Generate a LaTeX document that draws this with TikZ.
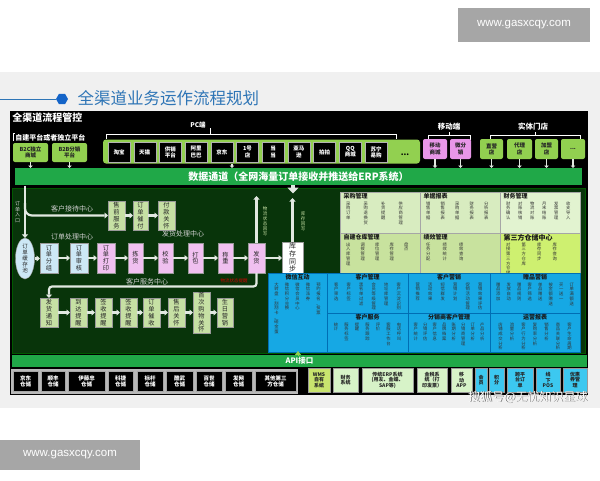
\documentclass[tikz,border=0pt]{standalone}
\usepackage{fontspec}
\setmainfont{Noto Sans CJK SC}
\newfontfamily\wmfont{Liberation Sans}
\usetikzlibrary{arrows.meta,shapes.geometric}
\definecolor{dkgreen}{RGB}{8,52,10}
\definecolor{brgreen}{RGB}{32,168,72}
\definecolor{lime}{RGB}{146,208,80}
\definecolor{pale}{RGB}{198,224,164}
\definecolor{lblue}{RGB}{205,232,246}
\definecolor{pinkb}{RGB}{240,192,240}
\definecolor{mpink}{RGB}{232,150,232}
\definecolor{cyanp}{RGB}{22,168,228}
\definecolor{cyanb}{RGB}{60,200,240}
\definecolor{titleblue}{RGB}{46,117,182}
\definecolor{hexblue}{RGB}{20,100,200}
\definecolor{bggray}{RGB}{240,240,240}
\definecolor{wmgray}{RGB}{166,166,166}
\definecolor{rpa}{RGB}{216,236,192}
\definecolor{rpb}{RGB}{226,243,208}
\definecolor{rpc}{RGB}{200,226,158}
\definecolor{rpd}{RGB}{206,240,112}
\definecolor{arrw}{RGB}{225,232,225}
\definecolor{wmsg}{RGB}{200,228,110}
\definecolor{mint}{RGB}{215,243,200}
\let\VEnd\relax
\def\VA#1{\ifx\VEnd#1\else\hbox to 1.05em{\hss#1\hss}\expandafter\VA\fi}
\newcommand\V[1]{\vtop{\baselineskip=1.1em\lineskiplimit=0pt\lineskip=0pt\VA#1\VEnd}}
\newcommand\W[1]{\V{#1}\hskip\cgap}
\tikzset{
 every node/.style={inner sep=0.5pt, outer sep=0pt},
 flow/.style={draw=black!40, line width=0.3pt, anchor=north west, align=center, font=\fontsize{6.2}{7}\selectfont, text=black!85},
 pcb/.style={draw=white!70!black, fill=black, text=white, anchor=north west, align=center, font=\bfseries\fontsize{5.5}{6.2}\selectfont, line width=0.4pt, minimum width=22pt, minimum height=20pt},
 srcb/.style={rounded corners=2pt, anchor=north west, align=center, font=\bfseries\fontsize{5.5}{6.2}\selectfont, text=black!85},
 lbl/.style={text=white!82!black, font=\fontsize{7}{7}\selectfont},
 hlbl/.style={text=white, font=\bfseries\fontsize{7.5}{7.5}\selectfont},
 warr/.style={draw=arrw, line width=2.2pt, -{Triangle[width=6pt,length=3.5pt]}},
 darr/.style={draw=arrw, line width=1.6pt, -{Triangle[width=4.5pt,length=2.5pt]}},
 pnl/.style={draw=black!35, line width=0.4pt, anchor=north west},
 bpnl/.style={draw={rgb,255:red,0;green,110;blue,180}, line width=0.4pt, anchor=north west},
 ptl/.style={font=\bfseries\fontsize{6}{6}\selectfont, text=black!90},
 pcols/.style={font=\fontsize{4.3}{5}\selectfont, text=black!80, inner sep=0pt},
 whb/.style={draw=gray!70, fill=black, text=white, anchor=north west, align=center, font=\bfseries\fontsize{5.5}{6.3}\selectfont, minimum height=20pt},
 brb/.style={draw=black!40, anchor=north west, align=center, font=\bfseries\fontsize{5}{5.6}\selectfont, text=black!85, minimum height=24pt},
 wmbox/.style={fill=wmgray, text=white, font=\wmfont\fontsize{11.5}{12}\selectfont}
}
\newcommand\fb[7]{\node[flow, fill=#2, minimum width=#5pt, minimum height=#6pt] (#1) at (#3,#4) {\V{#7}};}
\newcommand\panelL[9]{%
 \node[pnl, fill=#2, minimum width=#5pt, minimum height=#6pt] (#1) at (#3,#4) {};
 \node[ptl, anchor=north west] (#1t) at ([xshift=3pt,yshift=-1pt]#1.north west) {#7};
 \node[pcols, anchor=north west] (#1c) at ([xshift=6pt,yshift=-9.5pt]#1.north west) {\def\cgap{#8}#9};}
\newcommand\panelC[9]{%
 \node[bpnl, fill=#2, minimum width=#5pt, minimum height=#6pt] (#1) at (#3,#4) {};
 \node[ptl, anchor=north] (#1t) at ([yshift=-1pt]#1.north) {#7};
 \node[pcols, anchor=north] (#1c) at ([yshift=-9.5pt]#1.north) {\def\cgap{#8}#9};}
\begin{document}
\begin{tikzpicture}[x=1pt,y=-1pt]
\useasboundingbox (0,0) rectangle (600,480);
\fill[white] (0,0) rectangle (600,480);
\fill[bggray] (0,72) rectangle (600,408);
\node[wmbox, minimum width=132pt, minimum height=34pt] (wm1) at (524,25) {www.gasxcqy.com};
\node[wmbox, minimum width=140pt, minimum height=30pt] (wm2) at (70,455) {www.gasxcqy.com};
% title
\coordinate (tl0) at (0,99);
\node[regular polygon, regular polygon sides=6, fill=hexblue, minimum size=12pt, inner sep=0pt] (hex) at (62,99) {};
\draw[titleblue, line width=0.9pt] (tl0) -- (hex.west);
\node[anchor=west, text=titleblue, font=\fontsize{16.5}{17}\selectfont] (ttl) at (77,98) {全渠道业务运作流程规划};
% frame
\node[fill=black, anchor=north west, minimum width=578pt, minimum height=284pt] (frame) at (10,111) {};
\node[anchor=west, text=white, font=\bfseries\fontsize{10}{10}\selectfont] (ft) at (12,117.5) {全渠道流程管控};
% braces and group labels
\node[hlbl, font=\bfseries\fontsize{6.5}{6.5}\selectfont] (pcl) at (198,125) {PC端};
\draw[white, line width=0.5pt] (106,139) -- (106,134) -- (396,134) -- (396,139);
\draw[white, line width=0.5pt] (210,134) -- (210,128);
\node[hlbl] (mbl) at (449,126.5) {移动端};
\draw[white, line width=0.5pt] (428,139.5) -- (428,135) -- (470,135) -- (470,139.5);
\draw[white, line width=0.5pt] (449,135) -- (449,132);
\node[hlbl] (stl) at (533,126.5) {实体门店};
\draw[white, line width=0.5pt] (490,139.5) -- (490,135) -- (580,135) -- (580,139.5);
\draw[white, line width=0.5pt] (535,135) -- (535,132);
\node[anchor=west, text=white, font=\bfseries\fontsize{7}{7}\selectfont] (zjl) at (15,137.5) {自建平台或者独立平台};
\draw[white, line width=0.5pt] (13,141) -- (13,133.5) -- (15,133.5);
% sources
\node[srcb, fill=lime, minimum width=35pt, minimum height=19pt] (b2c) at (13,143) {B2C独立\\商城};
\node[srcb, fill=lime, minimum width=35pt, minimum height=19pt] (b2b) at (52,143) {B2B分销\\平台};
\node[fill=lime, rounded corners=3pt, anchor=north west, minimum width=317pt, minimum height=24pt] (pcg) at (103,139.5) {};
\node[pcb] (pc1) at (108,142) {淘宝};
\node[pcb] (pc2) at (133.7,142) {天猫};
\node[pcb] (pc3) at (159.4,142) {供销\\平台};
\node[pcb] (pc4) at (185.1,142) {阿里\\巴巴};
\node[pcb] (pc5) at (210.8,142) {京东};
\node[pcb] (pc6) at (236.5,142) {1号\\店};
\node[pcb] (pc7) at (262.2,142) {当\\当};
\node[pcb] (pc8) at (287.9,142) {亚马\\逊};
\node[pcb] (pc9) at (313.6,142) {拍拍};
\node[pcb] (pc10) at (339.3,142) {QQ\\商城};
\node[pcb] (pc11) at (365,142) {苏宁\\易购};
\node[font=\bfseries\fontsize{8}{8}\selectfont, text=black] (pcd) at (405,155) {...};
\node[srcb, fill=mpink, minimum width=24pt, minimum height=20pt] (mc) at (423,139) {移动\\商城};
\node[srcb, fill=mpink, minimum width=21pt, minimum height=20pt] (wf) at (450,139) {微分\\销};
\node[srcb, fill=lime, minimum width=23pt, minimum height=20pt] (zy) at (480,139) {直营\\店};
\node[srcb, fill=lime, minimum width=25pt, minimum height=20pt] (dl) at (507,139) {代理\\店};
\node[srcb, fill=lime, minimum width=23pt, minimum height=20pt] (jm) at (535,139) {加盟\\店};
\node[srcb, fill=lime, minimum width=24pt, minimum height=20pt] (sd) at (561,139) {...};
% data channel
\node[fill=brgreen, anchor=north west, minimum width=567pt, minimum height=17pt, text=white, font=\bfseries\fontsize{10}{10}\selectfont] (dc) at (15,168) {数据通道（全网海量订单接收并推送给ERP系统）};
\foreach \n in {b2c,b2b,mc,wf,zy,dl,jm,sd} \draw[darr] (\n.south) -- (\n.south |- dc.north);
\draw[darr] ([xshift=-29.5pt]pcg.south) -- ([xshift=-29.5pt]pcg.south |- dc.north);
% main area
\node[fill=dkgreen, draw=green!35!black, line width=0.6pt, anchor=north west, minimum width=573pt, minimum height=165pt] (main) at (12,188) {};
\coordinate (dn1) at (293,193.5);
\draw[draw=arrw, line width=3.5pt, -{Triangle[width=11pt,length=6pt]}] ([xshift=-5.5pt]dc.south) -- (dn1);
% labels
\node[lbl, font=\fontsize{5}{5}\selectfont] (oel) at (17.5,212) {\V{订单入口}};
\node[lbl] (l1) at (72,208.5) {客户接待中心};
\node[lbl] (l2) at (72,237) {订单处理中心};
\node[lbl] (l3) at (183,234) {发货处理中心};
\node[lbl] (l4) at (147,281.5) {客户服务中心};
\node[text=red!80!black, font=\fontsize{4.5}{5}\selectfont] (l5) at (234,281) {物流状态提醒};
% reception row
\fb{sqfw}{pale}{108}{201}{17}{29}{售前服务}
\fb{ddcf}{pale}{133}{201}{15}{29}{订单催付}
\fb{fkgh}{pale}{158}{201}{17}{29}{付款关怀}
\draw[warr] (sqfw.east) -- (sqfw.east -| ddcf.west);
\draw[warr] (ddcf.east) -- (ddcf.east -| fkgh.west);
% order row
\node[ellipse, fill=lblue, draw=black!40, minimum width=19pt, minimum height=37pt, inner sep=0pt, font=\fontsize{5.5}{6}\selectfont, text=black!85] (pool) at (25,258.5) {\V{订单缓存池}};
\fb{fz}{lblue}{40}{243}{18}{30}{订单分组}
\fb{sh}{lblue}{70}{243}{18}{30}{订单审核}
\fb{dy}{pinkb}{97}{243}{18}{30}{订单打印}
\fb{jh}{pinkb}{128}{243}{15}{30}{拣货}
\fb{jy}{pinkb}{158}{243}{15}{30}{校验}
\fb{db}{pinkb}{188}{243}{15}{30}{打包}
\fb{cz}{pinkb}{218}{243}{15}{30}{称重}
\fb{fh}{pinkb}{248}{243}{17}{30}{发货}
\node[flow, fill=white, minimum width=21pt, minimum height=31pt, font=\fontsize{7}{7}\selectfont] (kc) at (282,242) {\V{库存同步}};
\coordinate (oe) at (25,185.5);
\coordinate (br) at (25,203);
\draw[warr] (oe) -- (pool.north);
\draw[warr, rounded corners=7pt] (br) |- (sqfw.west);
\draw[warr] (pool.east) -- (pool.east -| fz.west);
\foreach \a/\b in {fz/sh,sh/dy,dy/jh,jh/jy,jy/db,db/cz,cz/fh,fh/kc} \draw[warr] (\a.east) -- (\a.east -| \b.west);
\coordinate (fhup) at (256.5,196);
\coordinate (kcup) at (292.5,198);
\draw[warr] (fh.north) -- (fhup);
\draw[warr] (kc.north) -- (kcup);
\node[text=pale, font=\fontsize{4.5}{5}\selectfont] (wlhx) at (265,221) {\V{物流状态回写}};
\node[text=pale, font=\fontsize{4.5}{5}\selectfont] (kchx) at (303,221) {\V{库存回写}};
% service row
\fb{fhtz}{pale}{40}{298}{18}{29}{发货通知}
\fb{ddtx}{pale}{70}{298}{17}{29}{到达提醒}
\fb{qsa}{pale}{95}{298}{17}{29}{签收提醒}
\fb{qsb}{pale}{120}{298}{17}{29}{签收提醒}
\fb{ddcs}{pale}{143}{298}{17}{29}{订单催收}
\fb{shgh}{pale}{168}{298}{17}{29}{售后关怀}
\fb{scgw}{pale}{193}{292}{17}{41}{首次购物关怀}
\fb{sryx}{pale}{217}{298}{16}{29}{生日营销}
\coordinate (sv1) at (256.5,286.5);
\coordinate (sv2) at (49,286.5);
\draw[warr, rounded corners=3pt] (fh.south) -- (sv1) -- (sv2) -- (fhtz.north);
\foreach \a/\b in {fhtz/ddtx,ddtx/qsa,qsa/qsb,qsb/ddcs,ddcs/shgh,shgh/scgw,scgw/sryx} \draw[warr] (\a.east) -- (\a.east -| \b.west);
% right upper panels
\panelL{cg}{rpa}{340}{192}{80}{41}{采购管理}{13pt}{\W{采购订单}\W{采购退换货}\W{补货提醒}\V{供应商管理}}
\panelL{djbb}{rpa}{420}{192}{80}{41}{单据报表}{10pt}{\W{销售单据}\W{销售报表}\W{采购单据}\W{财务报表}\V{分析报表}}
\panelL{cw}{rpb}{500}{192}{80}{41}{财务管理}{7.5pt}{\W{财务确认}\W{对账核销}\W{物流对账}\W{月末结账}\W{发票管理}\V{收支导入}}
\panelL{zj}{rpc}{340}{233}{80}{40}{自建仓库管理}{10pt}{\W{出入库管理}\W{调拨管理}\W{库位管理}\W{库存管理}\V{盘点}}
\panelL{jx}{rpc}{420}{233}{80}{40}{绩效管理}{12pt}{\W{任务分配}\W{绩效统计}\V{绩效查询}}
\panelL{dsf}{rpd}{500}{233}{80}{40}{{\fontsize{7}{7}\selectfont 第三方仓储中心}}{11pt}{\W{对接第三方仓储}\W{第三方仓库}\W{库存同步}\V{库存查询}}
% blue panels
\panelC{wx}{cyanp}{268}{273}{59}{79}{微信互动}{6pt}{\W{大转盘、刮刮卡、砸金蛋}\W{微信积分兑换}\W{微信会员中心}\W{微信派券}\V{预约报名、投票}}
\panelC{khgl}{cyanp}{327}{273}{81}{40}{客户管理}{8pt}{\W{客户筛选}\W{客户标签}\W{黑名单过滤}\W{会员等级管理}\W{地址库管理}\V{客户沉淀识别}}
\panelC{khyx}{cyanp}{408}{273}{82}{40}{客户营销}{8pt}{\W{营销推荐}\W{活动效果}\W{短信群发}\W{营销计划}\W{促销活动管理}\V{营销效果评估}}
\panelC{zpyx}{cyanp}{490}{273}{90}{40}{赠品营销}{6pt}{\W{赠品添加}\W{发放自动}\W{赠品规则}\W{客户筛选}\W{单品赠送}\W{按金额赠送}\W{买一送一}\V{订单满额送}}
\panelC{khfw}{cyanp}{327}{313}{81}{39}{客户服务}{6pt}{\W{统计}\W{服务标签}\W{提醒}\W{服务跟踪}\W{评价}\W{客服工作台}\V{电话呼叫}}
\panelC{fxs}{cyanp}{408}{313}{82}{39}{分销商客户管理}{5pt}{\W{客户统计}\W{分销评估}\W{客户信息}\W{品牌档案}\W{账期分析}\W{分销商管理}\W{订单分析}\V{产品分析}}
\panelC{yybb}{cyanp}{490}{313}{90}{39}{运营报表}{7pt}{\W{店铺成交分析}\W{流量分析}\W{客户行为分析}\W{复购率分析}\W{销售分析}\W{商品关联分析}\V{客户生命周期}}
% API
\node[fill=brgreen, anchor=north west, minimum width=575pt, minimum height=12pt, text=white, font=\bfseries\fontsize{7.5}{8}\selectfont] (api) at (12,355) {API接口};
\coordinate (apiup) at (298,351);
\draw[draw=lime, line width=1pt, -{Triangle[width=6pt,length=4pt]}] ([xshift=-1.5pt]api.north) -- (apiup);
% warehouses
\node[fill=gray!55, anchor=north west, minimum width=287pt, minimum height=25pt] (whr) at (11,369) {};
\node[whb, minimum width=25pt] (jdc) at (13,371.5) {京东\\仓储};
\node[whb, minimum width=24pt] (sfc) at (41,371.5) {顺丰\\仓储};
\node[whb, minimum width=37pt] (itz) at (68,371.5) {伊藤忠\\仓储};
\node[whb, minimum width=25pt] (kjc) at (108,371.5) {科捷\\仓储};
\node[whb, minimum width=26pt] (bgc) at (137,371.5) {标杆\\仓储};
\node[whb, minimum width=27pt] (kwc) at (166,371.5) {酷武\\仓储};
\node[whb, minimum width=26pt] (bsc) at (196,371.5) {百世\\仓储};
\node[whb, minimum width=27pt] (fwc) at (225,371.5) {发网\\仓储};
\node[whb, minimum width=41pt] (qtc) at (255,371.5) {其他第三\\方仓储};
% systems
\node[brb, fill=wmsg, minimum width=22pt] (wms) at (308,368) {WMS\\自有\\系统};
\node[brb, fill=mint, minimum width=25pt] (cwxt) at (333,368) {财务\\系统};
\node[brb, fill=mint, minimum width=51pt] (erp) at (362,368) {传统ERP系统\\(用友、金蝶、\\SAP等)};
\node[brb, fill=mint, minimum width=30pt] (js) at (417,368) {金税系\\统（打\\印发票）};
\node[brb, fill=mint, minimum width=21pt] (app) at (451,368) {移\\动\\APP};
\node[brb, fill=cyanb, minimum width=12pt] (hy) at (475,368) {会\\员};
\node[brb, fill=cyanb, minimum width=15pt] (jf) at (489,368) {积\\分};
\node[brb, fill=cyanb, minimum width=26pt] (kpt) at (507,368) {跨平\\台订\\单};
\node[brb, fill=cyanb, minimum width=24pt] (xxp) at (536,368) {线\\下\\POS};
\node[brb, fill=cyanb, minimum width=24pt] (yhq) at (563,368) {优惠\\券管\\理};
% watermark text
\node[text=gray!70!black, font=\fontsize{12}{12}\selectfont, anchor=east] (wmt0) at (588.7,397.7) {搜狐号@无忧知识星球};
\node[text=white, font=\fontsize{12}{12}\selectfont, anchor=east] (wmt) at (588,397) {搜狐号@无忧知识星球};
\end{tikzpicture}
\end{document}
